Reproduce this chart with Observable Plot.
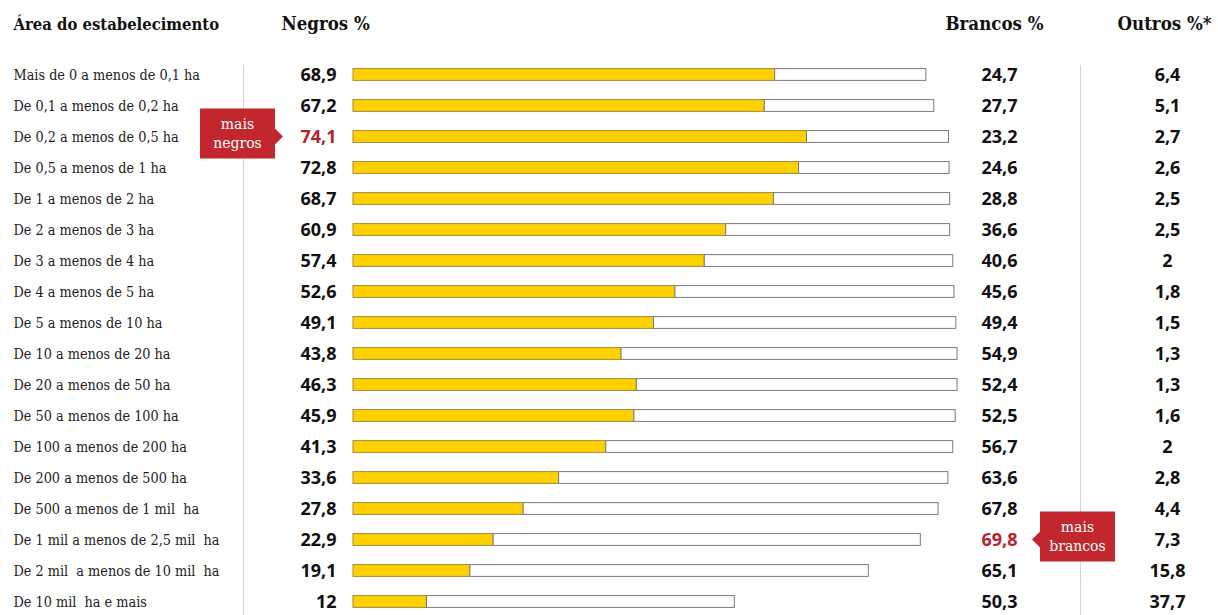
<!DOCTYPE html>
<html>
<head>
<meta charset="utf-8">
<script src="https://cdn.jsdelivr.net/npm/d3@7"></script>
<script src="https://cdn.jsdelivr.net/npm/@observablehq/plot@0.6"></script>
<style>
  html, body { margin: 0; padding: 0; background: #fff; }
  svg text { white-space: pre; }
</style>
</head>
<body>
<div id="chart"></div>
<script>
const categories = [
  "Mais de 0 a menos de 0,1 ha",
  "De 0,1 a menos de 0,2 ha",
  "De 0,2 a menos de 0,5 ha",
  "De 0,5 a menos de 1 ha",
  "De 1 a menos de 2 ha",
  "De 2 a menos de 3 ha",
  "De 3 a menos de 4 ha",
  "De 4 a menos de 5 ha",
  "De 5 a menos de 10 ha",
  "De 10 a menos de 20 ha",
  "De 20 a menos de 50 ha",
  "De 50 a menos de 100 ha",
  "De 100 a menos de 200 ha",
  "De 200 a menos de 500 ha",
  "De 500 a menos de 1 mil  ha",
  "De 1 mil a menos de 2,5 mil  ha",
  "De 2 mil  a menos de 10 mil  ha",
  "De 10 mil  ha e mais"
];
const negros  = [68.9, 67.2, 74.1, 72.8, 68.7, 60.9, 57.4, 52.6, 49.1, 43.8, 46.3, 45.9, 41.3, 33.6, 27.8, 22.9, 19.1, 12];
const brancos = [24.7, 27.7, 23.2, 24.6, 28.8, 36.6, 40.6, 45.6, 49.4, 54.9, 52.4, 52.5, 56.7, 63.6, 67.8, 69.8, 65.1, 50.3];
const outros  = [6.4, 5.1, 2.7, 2.6, 2.5, 2.5, 2, 1.8, 1.5, 1.3, 1.3, 1.6, 2, 2.8, 4.4, 7.3, 15.8, 37.7];
const headers = ["Área do estabelecimento", "Negros %", "Brancos %", "Outros %*"];
const annotations = [
  {cat: "De 0,2 a menos de 0,5 ha", lines: ["mais", "negros"], side: "negros"},
  {cat: "De 1 mil a menos de 2,5 mil  ha", lines: ["mais", "brancos"], side: "brancos"}
];

const rows = categories.map((c, i) => ({cat: c, negros: negros[i], brancos: brancos[i], outros: outros[i]}));
const maxNeg = d3.max(negros), maxBra = d3.max(brancos);
const fmt = v => String(v).replace(".", ",");

const W = 1218, H = 615;
const serif = "'DejaVu Serif Condensed', 'DejaVu Serif', serif";
const sans = "'Noto Sans', 'Open Sans', sans-serif";
const red = "#c1272d";

const plot = Plot.plot({
  width: W, height: H,
  marginLeft: 353, marginRight: 253, marginTop: 0, marginBottom: 0,
  x: {domain: [0, 100], axis: null},
  y: {type: "band", domain: categories, range: [56.6, 618.9], padding: 0, axis: null},
  style: {background: "#fff", overflow: "visible"},
  marks: [
    // vertical separators
    Plot.ruleX([0], {dx: -110, insetTop: 65, stroke: "#d4d4d4", strokeWidth: 1}),
    Plot.ruleX([100], {dx: 115, insetTop: 65, stroke: "#d4d4d4", strokeWidth: 1}),
    // bars
    Plot.barX(rows, {y: "cat", x1: 0, x2: "negros", fill: "#fdd000", stroke: "#a38b3a", strokeWidth: 1, insetTop: 9.6, insetBottom: 9.6}),
    Plot.barX(rows, {y: "cat", x1: "negros", x2: d => d.negros + d.brancos, fill: "#fff", stroke: "#7a7a7a", strokeWidth: 1, insetTop: 9.6, insetBottom: 9.6}),
    // category labels
    Plot.text(rows, {y: "cat", text: "cat", frameAnchor: "left", dx: -340, textAnchor: "start", fontFamily: serif, fontSize: 14.3, fill: "#222"}),
    // numbers
    Plot.text(rows, {y: "cat", text: d => fmt(d.negros), frameAnchor: "left", dx: -17, textAnchor: "end", fontFamily: sans, fontWeight: 700, fontSize: 18,
      fill: d => d.negros === maxNeg ? "#b5242b" : "#111"}),
    Plot.text(rows, {y: "cat", text: d => fmt(d.brancos), frameAnchor: "right", dx: 34, textAnchor: "middle", fontFamily: sans, fontWeight: 700, fontSize: 18,
      fill: d => d.brancos === maxBra ? "#b5242b" : "#111"}),
    Plot.text(rows, {y: "cat", text: d => fmt(d.outros), frameAnchor: "right", dx: 202, textAnchor: "middle", fontFamily: sans, fontWeight: 700, fontSize: 18, fill: "#111"}),
    // headers
    Plot.text([headers[0]], {text: d => d, frameAnchor: "top-left", dx: -340, dy: 24, textAnchor: "start", lineAnchor: "middle", fontFamily: serif, fontWeight: 700, fontSize: 16.5, fill: "#111"}),
    Plot.text([headers[1]], {text: d => d, frameAnchor: "top-left", dx: -72, dy: 24, textAnchor: "start", lineAnchor: "middle", fontFamily: serif, fontWeight: 700, fontSize: 18.5, fill: "#111"}),
    Plot.text([headers[2]], {text: d => d, frameAnchor: "top-right", dx: 29, dy: 24, textAnchor: "middle", lineAnchor: "middle", fontFamily: serif, fontWeight: 700, fontSize: 18.5, fill: "#111"}),
    Plot.text([headers[3]], {text: d => d, frameAnchor: "top-right", dx: 199, dy: 24, textAnchor: "middle", lineAnchor: "middle", fontFamily: serif, fontWeight: 700, fontSize: 18.5, fill: "#111"})
  ]
});

document.getElementById("chart").appendChild(plot);

// annotation callouts, positioned from the plot's y scale
const ys = plot.scale("y");
const bw = ys.bandwidth || 0;
const svg = d3.select(plot);
const g = svg.append("g");
for (const a of annotations) {
  const yc = ys.apply(a.cat) + bw / 2;
  const bx = a.side === "negros" ? 200 : 1040;
  const bwid = 75, bh = 50;
  const by = yc - 28;
  let path;
  if (a.side === "negros") {
    path = `M${bx},${by}H${bx+bwid}V${yc-8}L${bx+bwid+8},${yc}L${bx+bwid},${yc+8}V${by+bh}H${bx}Z`;
  } else {
    path = `M${bx},${by}H${bx+bwid}V${by+bh}H${bx}V${yc+8}L${bx-8},${yc}L${bx},${yc-8}Z`;
  }
  g.append("path").attr("d", path).attr("fill", red);
  a.lines.forEach((t, j) => {
    g.append("text")
      .attr("x", bx + bwid / 2)
      .attr("y", by + 20 + j * 19)
      .attr("text-anchor", "middle")
      .attr("font-family", "'DejaVu Serif', serif")
      .attr("font-size", 14)
      .attr("fill", "#fff")
      .text(t);
  });
}
</script>
</body>
</html>
